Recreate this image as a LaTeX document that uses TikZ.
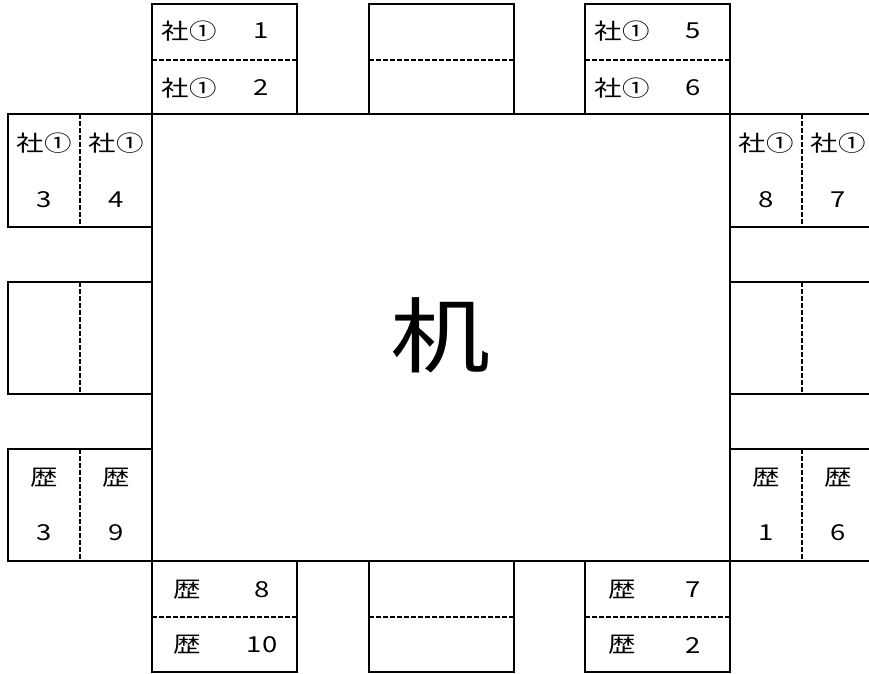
\documentclass[tikz,border=0pt]{standalone}
\usepackage{fontspec}
\setmainfont{Noto Sans CJK JP}
\newcommand{\seattext}[1]{\scalebox{1.25}[1]{#1}}

\begin{document}
\begin{tikzpicture}[x=1pt,y=-1pt,line width=1.3pt,
  cut/.style={dash pattern=on 5pt off 2pt},
  lbl/.style={inner sep=0pt,font=\fontsize{22}{26}\selectfont},
  big/.style={inner sep=0pt,font=\fontsize{82}{90}\selectfont}]
 	\useasboundingbox (0,0) rectangle (869,673);
 	\draw (152,114) rectangle (730,561);
 		\node[big] (desk) at (441,335) {\scalebox{1.22}[1]{机}};
 	\draw (152,4) rectangle (297,114);
 	\draw[cut] (152,60)--(297,60);
 	\draw (369,4) rectangle (514,114);
 	\draw[cut] (369,60)--(514,60);
 	\draw (585,4) rectangle (730,114);
 	\draw[cut] (585,60)--(730,60);
 	\draw (152,561) rectangle (297,672);
 	\draw[cut] (152,617)--(297,617);
 	\draw (369,561) rectangle (514,672);
 	\draw[cut] (369,617)--(514,617);
 	\draw (585,561) rectangle (730,672);
 	\draw[cut] (585,617)--(730,617);
 	\draw (8,114) rectangle (152,227);
 	\draw[cut] (80,114)--(80,227);
 	\draw (8,282) rectangle (152,394);
 	\draw[cut] (80,282)--(80,394);
 	\draw (8,449) rectangle (152,561);
 	\draw[cut] (80,449)--(80,561);
 	\draw (869,114)--(730,114)--(730,227)--(869,227);
 	\draw[cut] (802,114)--(802,227);
 	\draw (869,282)--(730,282)--(730,394)--(869,394);
 	\draw[cut] (802,282)--(802,394);
 	\draw (869,449)--(730,449)--(730,561)--(869,561);
 	\draw[cut] (802,449)--(802,561);
 		\node[lbl] (sha1) at (189,31) {\seattext{社①}};
 		\node[lbl] (num1) at (261,31) {\seattext{1}};
 		\node[lbl] (sha2) at (189,88) {\seattext{社①}};
 		\node[lbl] (num2) at (261,88) {\seattext{2}};
 		\node[lbl] (sha5) at (622,31) {\seattext{社①}};
 		\node[lbl] (num5) at (693,31) {\seattext{5}};
 		\node[lbl] (sha6) at (622,88) {\seattext{社①}};
 		\node[lbl] (num6) at (693,88) {\seattext{6}};
 		\node[lbl] (sha3) at (44,143) {\seattext{社①}};
 		\node[lbl] (num3) at (44,200) {\seattext{3}};
 		\node[lbl] (sha4) at (116,143) {\seattext{社①}};
 		\node[lbl] (num4) at (116,200) {\seattext{4}};
 		\node[lbl] (sha8) at (766,143) {\seattext{社①}};
 		\node[lbl] (num8) at (766,200) {\seattext{8}};
 		\node[lbl] (sha7) at (838,143) {\seattext{社①}};
 		\node[lbl] (num7) at (838,200) {\seattext{7}};
 		\node[lbl] (reki3) at (44,478) {\seattext{歴}};
 		\node[lbl] (rnum3) at (44,533) {\seattext{3}};
 		\node[lbl] (reki9) at (116,478) {\seattext{歴}};
 		\node[lbl] (rnum9) at (116,533) {\seattext{9}};
 		\node[lbl] (reki1) at (766,478) {\seattext{歴}};
 		\node[lbl] (rnum1) at (766,533) {\seattext{1}};
 		\node[lbl] (reki6) at (838,478) {\seattext{歴}};
 		\node[lbl] (rnum6) at (838,533) {\seattext{6}};
 		\node[lbl] (reki8) at (187,590) {\seattext{歴}};
 		\node[lbl] (rnum8) at (262,590) {\seattext{8}};
 		\node[lbl] (reki10) at (187,645) {\seattext{歴}};
 		\node[lbl] (rnum10) at (262,645) {\seattext{10}};
 		\node[lbl] (reki7) at (622,590) {\seattext{歴}};
 		\node[lbl] (rnum7) at (693,590) {\seattext{7}};
 		\node[lbl] (reki2) at (622,645) {\seattext{歴}};
 		\node[lbl] (rnum2) at (693,645) {\seattext{2}};
 \end{tikzpicture}
\end{document}
